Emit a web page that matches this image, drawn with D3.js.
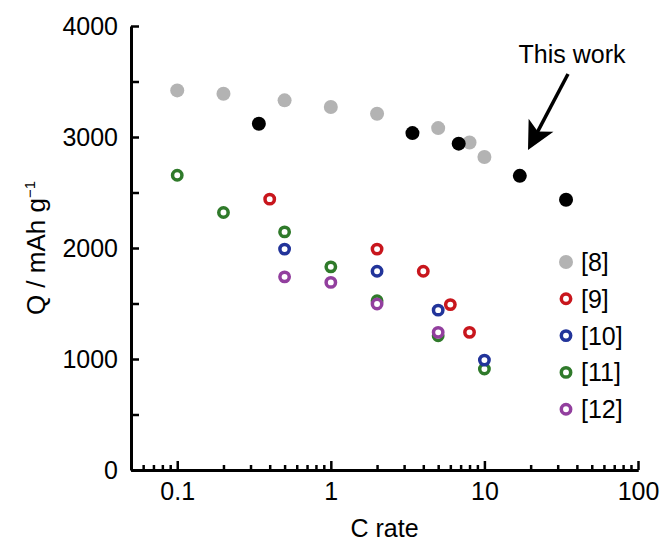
<!DOCTYPE html>
<html>
<head>
  <script src="https://d3js.org/d3.v7.min.js"></script>
  <style>
    body { margin: 0; background: #fff; }
    text { font-family: "Liberation Sans", Arial, sans-serif; }
  </style>
</head>
<body>
  <svg id="canvas" width="662" height="548"></svg>
  <script>
    // values
    const ref8Rate = [0.1, 0.2, 0.5, 1, 2, 5, 8, 10];
    const ref8Q = [3420, 3390, 3330, 3270, 3210, 3080, 2950, 2820];
    const ref9Rate = [0.4, 2, 4, 6, 8];
    const ref9Q = [2440, 1990, 1790, 1490, 1240];
    const ref10Rate = [0.5, 2, 5, 10];
    const ref10Q = [1990, 1790, 1440, 990];
    const ref11Rate = [0.1, 0.2, 0.5, 1, 2, 5, 10];
    const ref11Q = [2655, 2320, 2145, 1830, 1525, 1210, 910];
    const ref12Rate = [0.5, 1, 2, 5];
    const ref12Q = [1740, 1690, 1495, 1240];
    const thisWorkRate = [0.34, 3.4, 6.8, 17, 34];
    const thisWorkQ = [3120, 3035, 2940, 2650, 2435];

    const xMajor = [0.1, 1, 10, 100];
    const yTicks = [0, 500, 1000, 1500, 2000, 2500, 3000, 3500, 4000];
    const legendLabels = ["[8]", "[9]", "[10]", "[11]", "[12]"];

    const svg = d3.select("#canvas");
    const fs = 25;

    const x = d3.scaleLog().domain([0.05, 100]).range([131, 638]);
    const y = d3.scaleLinear().domain([0, 4000]).range([470, 26]);

    // minor ticks 2..9 of every decade
    const xMinor = [];
    [0.01, 0.1, 1, 10].forEach(d => {
      for (let k = 2; k <= 9; k++) {
        const v = +(d * k).toPrecision(3);
        if (v >= 0.05 && v < 100) xMinor.push(v);
      }
    });

    const axisStyle = g => {
      g.select(".domain").attr("stroke-width", 3);
      g.selectAll(".tick line").attr("stroke-width", 2.5);
      g.selectAll("text").attr("font-size", fs).attr("fill", "#000")
        .attr("font-family", "Liberation Sans, Arial, sans-serif");
    };

    svg.append("g")
      .attr("transform", "translate(0,470)")
      .call(d3.axisBottom(x).tickValues(xMinor).tickSizeInner(-5).tickSizeOuter(0).tickFormat(""))
      .call(axisStyle);

    svg.append("g")
      .attr("transform", "translate(0,470)")
      .call(d3.axisBottom(x).tickValues(xMajor).tickSizeInner(-9).tickSizeOuter(0)
        .tickPadding(12).tickFormat(d => d))
      .call(axisStyle);

    svg.append("g")
      .attr("transform", "translate(131,0)")
      .call(d3.axisLeft(y).tickValues(yTicks).tickSizeInner(-8).tickSizeOuter(0)
        .tickPadding(13).tickFormat(d => d % 1000 === 0 ? d : ""))
      .call(axisStyle);

    // axis titles
    svg.append("text")
      .attr("x", (131 + 638) / 2).attr("y", 537)
      .attr("text-anchor", "middle").attr("font-size", fs)
      .text("C rate");

    const yTitle = svg.append("text")
      .attr("transform", "translate(45,248) rotate(-90)")
      .attr("text-anchor", "middle").attr("font-size", 26);
    yTitle.append("tspan").text("Q / mAh g");
    yTitle.append("tspan").attr("font-size", 15).attr("dy", -10).text("\u22121");

    // series
    const filled = [
      { rate: ref8Rate, q: ref8Q, color: "#b3b3b3" },
      { rate: thisWorkRate, q: thisWorkQ, color: "#000000" }
    ];
    const open = [
      { rate: ref11Rate, q: ref11Q, color: "#2f7a2a" },
      { rate: ref9Rate, q: ref9Q, color: "#c8161d" },
      { rate: ref10Rate, q: ref10Q, color: "#22349a" },
      { rate: ref12Rate, q: ref12Q, color: "#923f9e" }
    ];

    filled.forEach(s => {
      svg.append("g").selectAll("circle")
        .data(s.rate.map((r, i) => [r, s.q[i]]))
        .join("circle")
        .attr("cx", d => x(d[0])).attr("cy", d => y(d[1]))
        .attr("r", 7).attr("fill", s.color);
    });

    open.forEach(s => {
      svg.append("g").selectAll("circle")
        .data(s.rate.map((r, i) => [r, s.q[i]]))
        .join("circle")
        .attr("cx", d => x(d[0])).attr("cy", d => y(d[1]))
        .attr("r", 4.7).attr("fill", "#fff")
        .attr("stroke", s.color).attr("stroke-width", 3.5);
    });

    // legend
    const legendColors = ["#b3b3b3", "#c8161d", "#22349a", "#2f7a2a", "#923f9e"];
    const legend = svg.append("g");
    legendLabels.forEach((lab, i) => {
      const cy = 262 + i * 36.8;
      if (i === 0) {
        legend.append("circle").attr("cx", 566).attr("cy", cy).attr("r", 7).attr("fill", legendColors[i]);
      } else {
        legend.append("circle").attr("cx", 566).attr("cy", cy).attr("r", 4.7)
          .attr("fill", "#fff").attr("stroke", legendColors[i]).attr("stroke-width", 3.5);
      }
      legend.append("text").attr("x", 581).attr("y", cy + 9)
        .attr("font-size", fs).text(lab);
    });

    // annotation arrow pointing at the 17 C point
    const start = [568, 74], tip = [528, 150];
    const len = Math.hypot(tip[0] - start[0], tip[1] - start[1]);
    const u = [(tip[0] - start[0]) / len, (tip[1] - start[1]) / len];
    const n = [-u[1], u[0]];
    const headLen = 28, headHalf = 14, notch = 21;
    const base = [tip[0] - headLen * u[0], tip[1] - headLen * u[1]];
    const back = [tip[0] - notch * u[0], tip[1] - notch * u[1]];

    svg.append("line")
      .attr("x1", start[0]).attr("y1", start[1])
      .attr("x2", back[0] + 2 * u[0]).attr("y2", back[1] + 2 * u[1])
      .attr("stroke", "#000").attr("stroke-width", 3.5);

    svg.append("path")
      .attr("d", d3.line()([
        tip,
        [base[0] + headHalf * n[0], base[1] + headHalf * n[1]],
        back,
        [base[0] - headHalf * n[0], base[1] - headHalf * n[1]]
      ]) + "Z")
      .attr("fill", "#000");

    svg.append("text")
      .attr("x", 572).attr("y", 63).attr("text-anchor", "middle")
      .attr("font-size", fs).text("This work");
  </script>
</body>
</html>
